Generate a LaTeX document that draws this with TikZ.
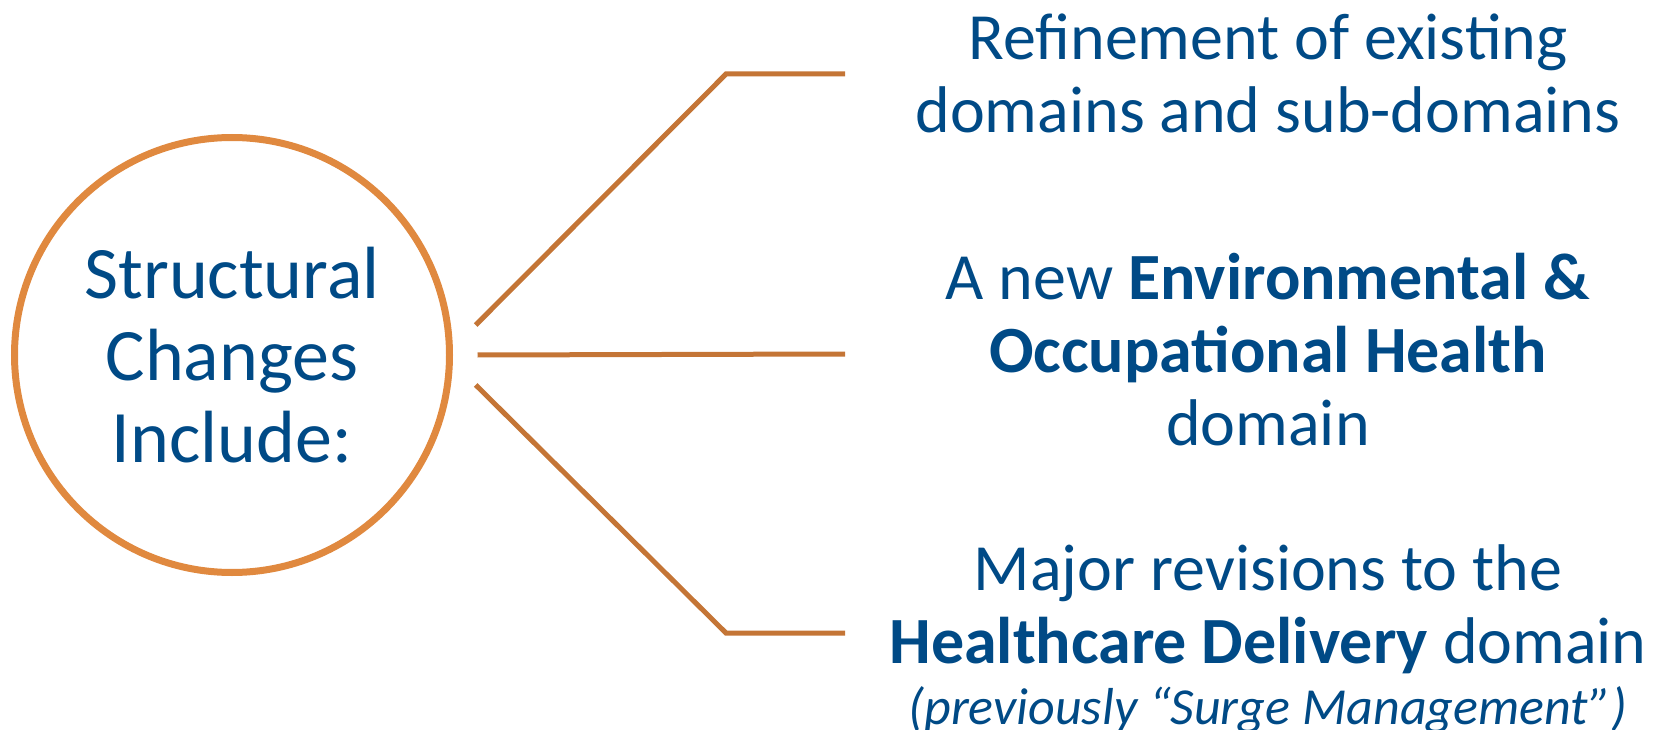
\documentclass[tikz,border=0pt]{standalone}
\usepackage{fontspec}
\setmainfont{Carlito}
\definecolor{inkblue}{HTML}{004A86}
\definecolor{ringorange}{HTML}{E0893F}
\definecolor{barbrown}{HTML}{C47536}
\tikzset{
  hub/.style={draw=ringorange, line width=7pt, circle, minimum size=435pt, outer sep=28pt,
    align=center, text=inkblue, font=\fontsize{74}{82}\selectfont},
  change/.style={align=center, text=inkblue, font=\fontsize{66}{73}\selectfont},
  branch/.style={draw=barbrown, line width=5pt}
}
\begin{document}
\begin{tikzpicture}[x=1pt, y=-1pt]
        \useasboundingbox (0,0) rectangle (1663,730);
        % hub and the three changes
        \node[hub] (hub) at (232,355) {Structural\\Changes\\Include:};
        \node[change] (refine) at (1268,73) {Refinement of existing\\domains and sub-domains};
        \node[change] (envocc) at (1268,350) {A new \textbf{Environmental \&}\\\textbf{Occupational Health}\\domain};
        \node[change] (hcd) at (1268,639) {Major revisions to the\\\textbf{Healthcare Delivery} domain\\[-12pt]{\fontsize{52}{57}\selectfont\itshape(previously “Surge Management”)}};

        \coordinate (kneeA) at (726,74);
        \coordinate (endA) at (845,74);
        \coordinate (endB) at (845,354);
        \coordinate (kneeC) at (726,633);
        \coordinate (endC) at (845,633);

        \draw[branch] (hub.7.4) -- (kneeA) -- (endA);
        \draw[branch] (hub.east) -- (endB);
        \draw[branch] (hub.-7.4) -- (kneeC) -- (endC);
    \end{tikzpicture}
\end{document}
